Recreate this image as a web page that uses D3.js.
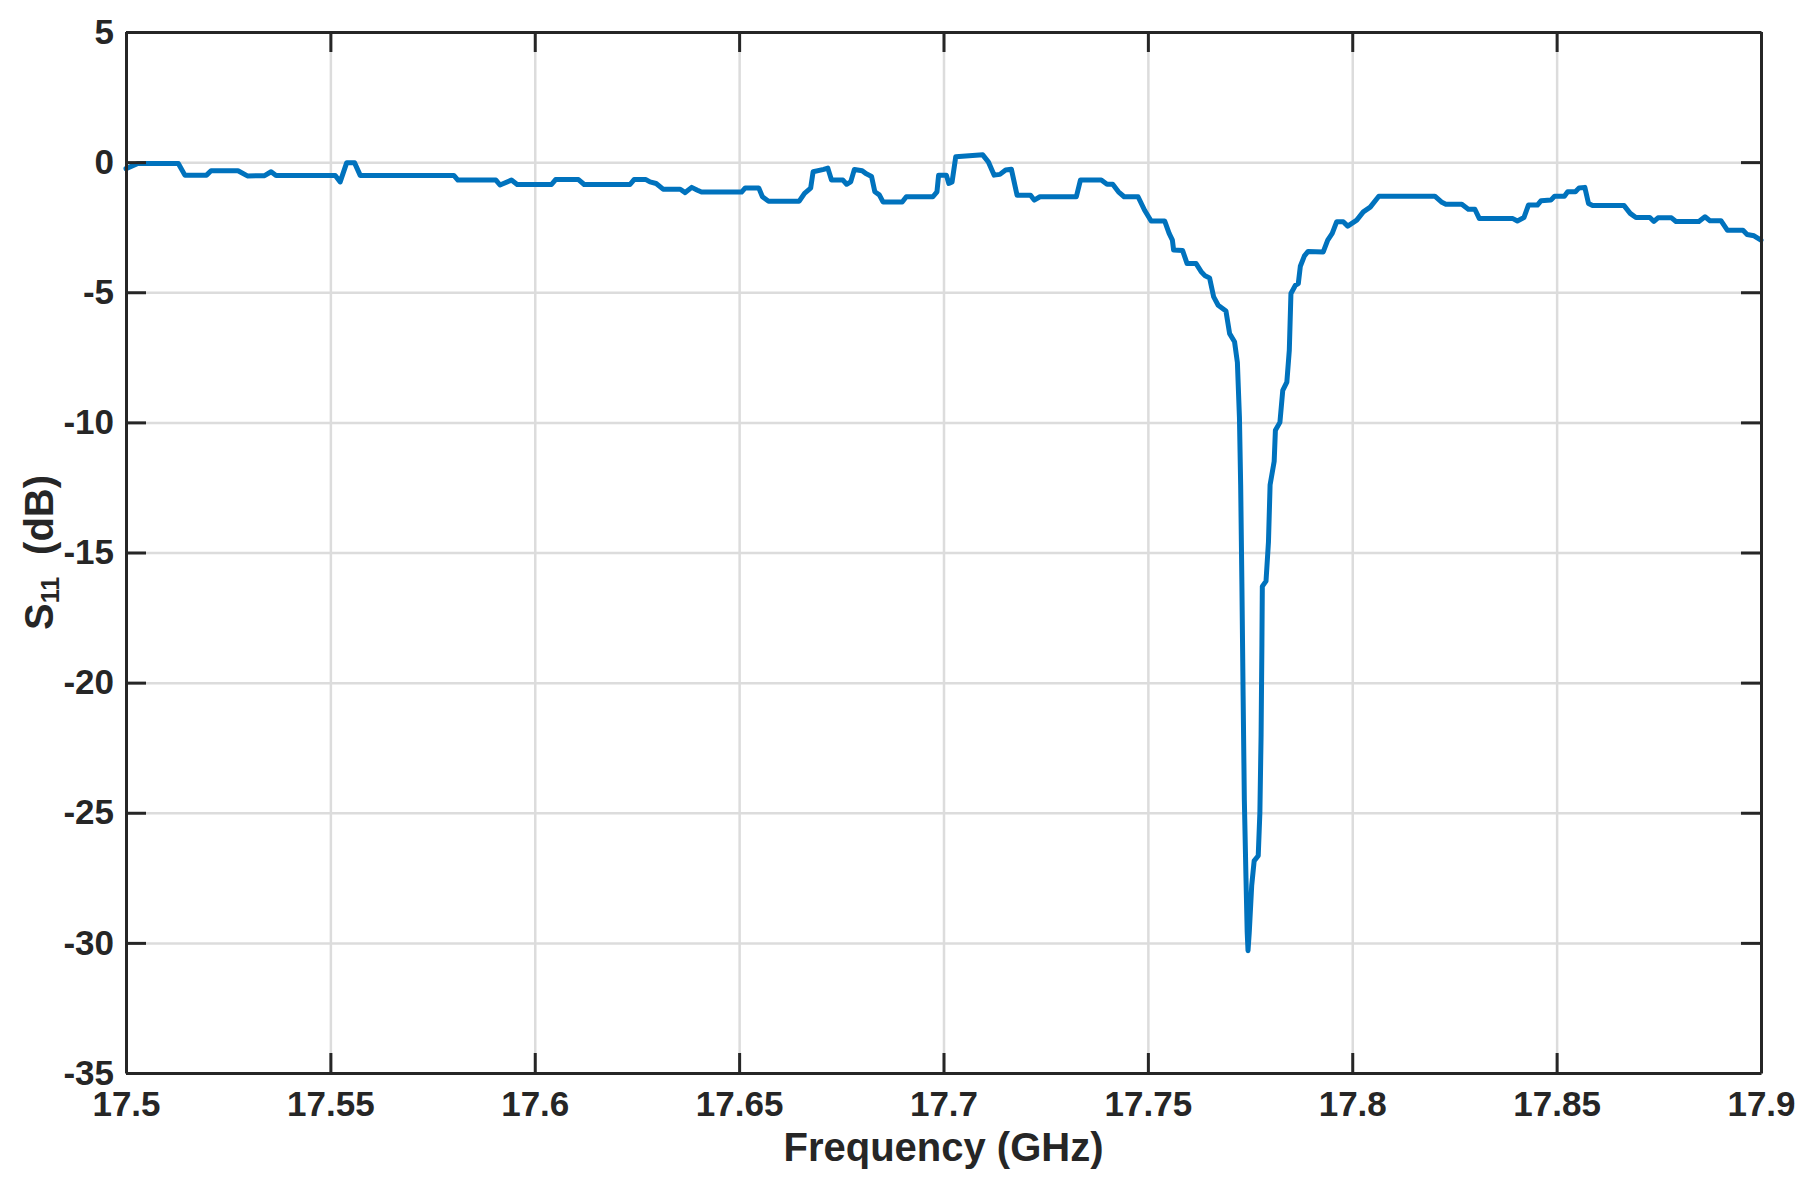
<!DOCTYPE html>
<html>
<head>
<meta charset="utf-8">
<script src="https://cdn.jsdelivr.net/npm/d3@7"></script>
<style>
  body { margin: 0; background: #fff; }
  svg text { font-family: "Liberation Sans", Arial, Helvetica, sans-serif; font-weight: bold; fill: #262626; }
  .grid line { stroke: #dcdcdc; stroke-width: 2.5; }
  .grid path { display: none; }
  .axis path, .axis line { stroke: #262626; stroke-width: 3; }
</style>
</head>
<body>
<svg width="1812" height="1178"></svg>
<script>
// frequency (GHz)
var freq = [
  17.5, 17.5029, 17.5128, 17.5144, 17.5197, 17.5208, 17.5274, 17.5297, 17.5339, 17.5355,
  17.5367, 17.5512, 17.5524, 17.5540, 17.5559, 17.5573, 17.5802, 17.5812, 17.5905, 17.5915,
  17.5943, 17.5957, 17.6041, 17.6051, 17.6107, 17.6121, 17.6233, 17.6243, 17.6272, 17.6282,
  17.6297, 17.6314, 17.6356, 17.6368, 17.6384, 17.6398, 17.6408, 17.6506, 17.6515, 17.6548,
  17.6557, 17.6572, 17.6647, 17.6660, 17.6675, 17.6681, 17.6707, 17.6717, 17.6726, 17.6754,
  17.6763, 17.6773, 17.6782, 17.6801, 17.6810, 17.6824, 17.6832, 17.6843, 17.6852, 17.6899,
  17.6909, 17.6974, 17.6984, 17.6988, 17.7007, 17.7013, 17.7021, 17.7030, 17.7096, 17.7110,
  17.7124, 17.7138, 17.7152, 17.7166, 17.7180, 17.7213, 17.7222, 17.7236, 17.7325, 17.7335,
  17.7386, 17.7400, 17.7414, 17.7428, 17.7442, 17.7476, 17.7492, 17.7508, 17.7541, 17.7552,
  17.7560, 17.7563, 17.7585, 17.7596, 17.7618, 17.7630, 17.7640, 17.7651, 17.7661, 17.7672,
  17.7691, 17.7700, 17.7712, 17.7719, 17.7724, 17.7727, 17.7730, 17.7733, 17.7736, 17.7740,
  17.7743, 17.7745, 17.7748, 17.7754, 17.7760, 17.7770, 17.7774, 17.7777, 17.7779, 17.7780,
  17.7789, 17.7795, 17.7799, 17.7809, 17.7812, 17.7823, 17.7830, 17.7840, 17.7846, 17.7850,
  17.7861, 17.7868, 17.7873, 17.7883, 17.7892, 17.7929, 17.7940, 17.7951, 17.7962, 17.7978,
  17.7989, 17.8011, 17.8027, 17.8044, 17.8065, 17.8202, 17.8218, 17.8229, 17.8268, 17.8284,
  17.8300, 17.8311, 17.8393, 17.8404, 17.8420, 17.8431, 17.8453, 17.8462, 17.8486, 17.8495,
  17.8519, 17.8527, 17.8546, 17.8555, 17.8569, 17.8578, 17.8588, 17.8665, 17.8680, 17.8694,
  17.8728, 17.8738, 17.8748, 17.8781, 17.8792, 17.8848, 17.8863, 17.8875, 17.8902, 17.8918,
  17.8956, 17.8966, 17.8983, 17.9
];

// S11 (dB)
var s11 = [
  -0.25, -0.05, -0.05, -0.5, -0.5, -0.33, -0.33, -0.53, -0.52, -0.37,
  -0.51, -0.51, -0.76, -0.02, -0.02, -0.51, -0.51, -0.69, -0.69, -0.88,
  -0.69, -0.86, -0.86, -0.67, -0.67, -0.86, -0.86, -0.67, -0.67, -0.76,
  -0.82, -1.04, -1.04, -1.17, -0.97, -1.08, -1.15, -1.15, -0.99, -0.99,
  -1.33, -1.5, -1.5, -1.2, -1.0, -0.37, -0.28, -0.23, -0.69, -0.69,
  -0.85, -0.76, -0.28, -0.33, -0.44, -0.55, -1.14, -1.26, -1.53, -1.53,
  -1.33, -1.33, -1.14, -0.5, -0.5, -0.82, -0.76, 0.21, 0.28, 0.0,
  -0.5, -0.47, -0.3, -0.27, -1.27, -1.27, -1.46, -1.33, -1.33, -0.69,
  -0.69, -0.85, -0.85, -1.14, -1.33, -1.33, -1.85, -2.26, -2.26, -2.74,
  -3.0, -3.38, -3.4, -3.9, -3.9, -4.2, -4.37, -4.45, -5.18, -5.5,
  -5.72, -6.59, -6.9, -7.7, -9.8, -12.4, -16.2, -20.5, -24.5, -27.5,
  -29.6, -30.3, -29.6, -27.8, -26.85, -26.65, -25.0, -22.0, -18.5, -16.3,
  -16.1, -14.6, -12.4, -11.5, -10.3, -10.0, -8.77, -8.45, -7.23, -5.05,
  -4.73, -4.67, -4.0, -3.6, -3.43, -3.45, -3.0, -2.74, -2.29, -2.29,
  -2.46, -2.23, -1.91, -1.73, -1.31, -1.31, -1.53, -1.62, -1.62, -1.81,
  -1.81, -2.17, -2.17, -2.26, -2.13, -1.65, -1.65, -1.48, -1.46, -1.31,
  -1.31, -1.14, -1.14, -0.99, -0.97, -1.59, -1.67, -1.67, -1.97, -2.13,
  -2.13, -2.28, -2.14, -2.14, -2.28, -2.28, -2.1, -2.25, -2.25, -2.62,
  -2.62, -2.78, -2.83, -3.0
];

var xTicks = [17.5, 17.55, 17.6, 17.65, 17.7, 17.75, 17.8, 17.85, 17.9];
var xTickLabels = ["17.5", "17.55", "17.6", "17.65", "17.7", "17.75", "17.8", "17.85", "17.9"];
var yTicks = [5, 0, -5, -10, -15, -20, -25, -30, -35];
var yTickLabels = ["5", "0", "-5", "-10", "-15", "-20", "-25", "-30", "-35"];

(function() {
  var svg = d3.select("svg"),
    margin = {top: 32, right: 51, bottom: 105, left: 126},
    width = +svg.attr("width") - margin.left - margin.right,
    height = +svg.attr("height") - margin.top - margin.bottom;

  var x = d3.scaleLinear()
      .domain([17.5, 17.9])
      .range([0, width]);

  var y = d3.scaleLinear()
      .domain([-35, 5])
      .range([height, 0]);

  var g = svg.append("g")
      .attr("transform", "translate(" + margin.left + "," + margin.top + ")");

  // grid
  g.append("g")
      .attr("class", "grid")
      .attr("transform", "translate(0," + height + ")")
      .call(d3.axisBottom(x).tickValues(xTicks).tickSize(-height).tickFormat(""));

  g.append("g")
      .attr("class", "grid")
      .call(d3.axisLeft(y).tickValues(yTicks).tickSize(-width).tickFormat(""));

  // trace
  var line = d3.line()
      .x(function(d, i) { return x(freq[i]); })
      .y(function(d) { return y(d); });

  g.append("path")
      .datum(s11)
      .attr("fill", "none")
      .attr("stroke", "#0072BD")
      .attr("stroke-width", 5)
      .attr("stroke-linejoin", "round")
      .attr("stroke-linecap", "round")
      .attr("d", line);

  // axes, ticks pointing inward
  var tickLen = 20;

  var bottom = g.append("g")
      .attr("class", "axis")
      .attr("transform", "translate(0," + height + ")")
      .call(d3.axisBottom(x)
        .tickValues(xTicks)
        .tickSizeInner(-tickLen)
        .tickSizeOuter(0)
        .tickPadding(18)
        .tickFormat(function(d, i) { return xTickLabels[i]; }));
  bottom.selectAll("text").attr("font-size", 35);

  g.append("g")
      .attr("class", "axis")
      .call(d3.axisTop(x).tickValues(xTicks).tickSizeInner(-tickLen).tickSizeOuter(0).tickFormat(""));

  var left = g.append("g")
      .attr("class", "axis")
      .call(d3.axisLeft(y)
        .tickValues(yTicks)
        .tickSizeInner(-tickLen)
        .tickSizeOuter(0)
        .tickPadding(12)
        .tickFormat(function(d, i) { return yTickLabels[i]; }));
  left.selectAll("text").attr("font-size", 35);

  g.append("g")
      .attr("class", "axis")
      .attr("transform", "translate(" + width + ",0)")
      .call(d3.axisRight(y).tickValues(yTicks).tickSizeInner(-tickLen).tickSizeOuter(0).tickFormat(""));

  g.selectAll(".axis .tick text").attr("fill", "#262626").style("font-family", null);

  // labels
  svg.append("text")
      .attr("x", margin.left + width / 2)
      .attr("y", 1161)
      .attr("text-anchor", "middle")
      .attr("font-size", 40)
      .text("Frequency (GHz)");

  var ylab = svg.append("text")
      .attr("transform", "translate(53," + (margin.top + height / 2) + ") rotate(-90)")
      .attr("text-anchor", "middle")
      .attr("font-size", 40);
  ylab.append("tspan").text("S");
  ylab.append("tspan").attr("font-size", 25).attr("dy", 6).text("11");
  ylab.append("tspan").attr("dx", 22).attr("dy", -6).text("(dB)");
})();
</script>
</body>
</html>
